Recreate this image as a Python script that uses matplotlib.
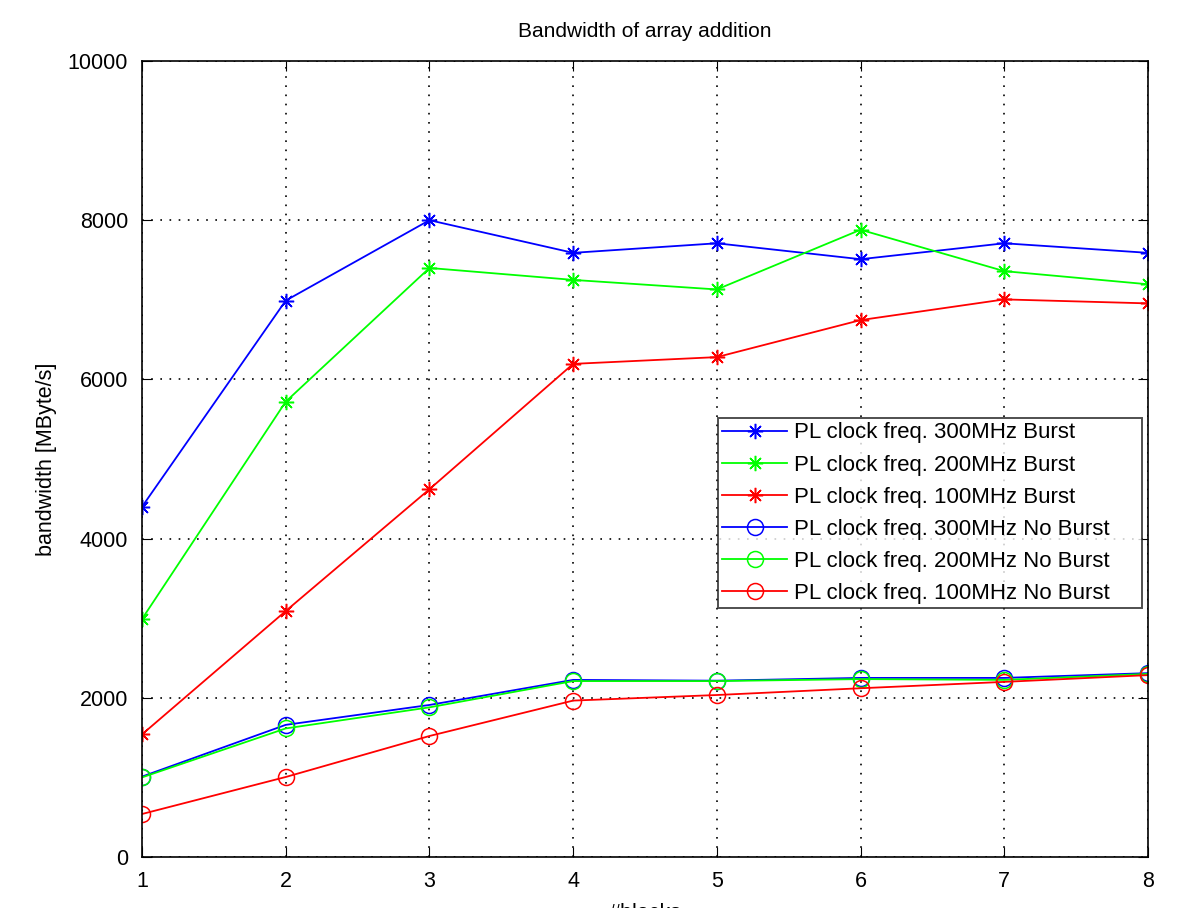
import matplotlib
matplotlib.use("Agg")
import matplotlib.pyplot as plt

plt.rcParams['font.family'] = ['Liberation Sans', 'DejaVu Sans']

blocks = [1, 2, 3, 4, 5, 6, 7, 8]
burst_300 = [4400, 6990, 8000, 7590, 7710, 7510, 7710, 7590]
burst_200 = [2990, 5720, 7400, 7250, 7130, 7880, 7360, 7195]
burst_100 = [1540, 3090, 4620, 6195, 6280, 6745, 7005, 6955]
noburst_300 = [1010, 1660, 1910, 2225, 2215, 2250, 2250, 2310]
noburst_200 = [1000, 1615, 1880, 2210, 2210, 2235, 2225, 2300]
noburst_100 = [540, 1005, 1520, 1965, 2035, 2120, 2200, 2285]

labels = ["PL clock freq. 300MHz Burst", "PL clock freq. 200MHz Burst",
          "PL clock freq. 100MHz Burst", "PL clock freq. 300MHz No Burst",
          "PL clock freq. 200MHz No Burst", "PL clock freq. 100MHz No Burst"]
title = "Bandwidth of array addition"
xlabel = "#blocks"
ylabel = "bandwidth [MByte/s]"
yticks = [0, 2000, 4000, 6000, 8000, 10000]

fig = plt.figure(figsize=(11.9, 9.08), dpi=100)
ax = fig.add_axes([142/1190, 1-857/908, (1148-142)/1190, (857-61)/908])

star = (8, 2, 0)
series = [(burst_300, 'b', star), (burst_200, '#00ff00', star), (burst_100, 'r', star),
          (noburst_300, 'b', 'o'), (noburst_200, '#00ff00', 'o'), (noburst_100, 'r', 'o')]
for (vals, col, mk), lab in zip(series, labels):
    if mk == 'o':
        ax.plot(blocks, vals, color=col, marker='o', markersize=11.5, markerfacecolor='none',
                markeredgecolor=col, markeredgewidth=1.1, linewidth=1.3, label=lab)
    else:
        ax.plot(blocks, vals, color=col, marker=mk, markersize=11,
                markeredgecolor=col, markeredgewidth=1.1, linewidth=1.3, label=lab)

ax.set_xlim(1, 8)
ax.set_ylim(0, 10000)
ax.set_xticks(blocks)
ax.set_yticks(yticks)
ax.grid(True, color='black', linestyle=(0, (1, 4.5)), linewidth=1.2)
ax.tick_params(direction='in', top=True, right=True, labelsize=15.5, length=7, pad=10)
for s in ax.spines.values():
    s.set_linewidth(1.2)
    s.set_color('black')
ax.set_title(title, fontsize=15, pad=17)
ax.set_xlabel(xlabel, fontsize=15.5, labelpad=8)
ax.set_ylabel(ylabel, fontsize=15.5, labelpad=8)

x0 = (718 - 142) / 1006
y1 = (857 - 418) / 796
w = (1142 - 718) / 1006
leg = ax.legend(loc='upper left', bbox_to_anchor=(x0, y1 - 0.3, w, 0.3), mode='expand',
                fontsize=16, frameon=True, fancybox=False, edgecolor='#222222',
                borderpad=0.2, labelspacing=0.5, handlelength=2.9, handletextpad=0.3,
                borderaxespad=0)
leg.get_frame().set_linewidth(1.4)

fig.savefig("out.png", dpi=100, facecolor='white')
